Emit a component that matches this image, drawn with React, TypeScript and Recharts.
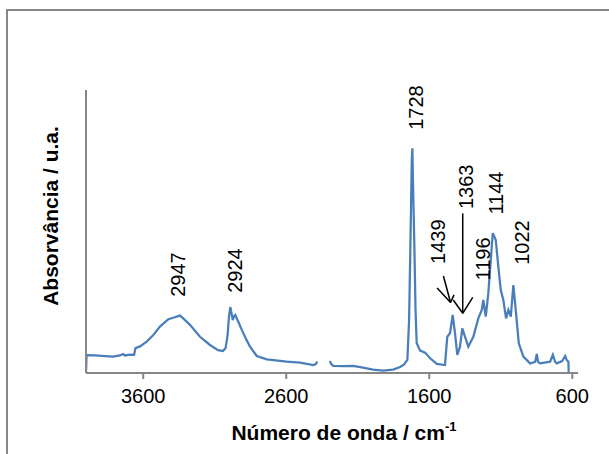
import React from "react";
import {
  LineChart,
  Line,
  XAxis,
  YAxis,
  ReferenceDot,
  ReferenceLine,
} from "recharts";

const wavenumber = [
  4000, 3996, 3937, 3867, 3811, 3762, 3741, 3727, 3692, 3664, 3654, 3622, 3576,
  3531, 3483, 3424, 3385, 3355, 3343, 3322, 3273, 3203, 3133, 3077, 3042, 3024,
  3010, 3000, 2991, 2983, 2974, 2965, 2956, 2944, 2935, 2920, 2900, 2878, 2853,
  2806, 2736, 2597, 2503, 2410, 2392, 2383, 2340, 2294, 2287, 2271, 2203, 2133,
  2063, 1993, 1921, 1853, 1804, 1776, 1753, 1741, 1732, 1722, 1718, 1714, 1704,
  1696, 1688, 1664, 1629, 1594, 1547, 1490, 1474, 1455, 1436, 1420, 1404, 1385,
  1369, 1350, 1327, 1292, 1257, 1233, 1222, 1205, 1187, 1170, 1156, 1147, 1135,
  1117, 1100, 1082, 1063, 1047, 1030, 1012, 993, 974, 942, 895, 860, 848, 839,
  825, 755, 736, 720, 708, 671, 650, 639, 627, 625, 568,
];

const absorbance = [
  0, 6.3, 6.2, 6.0, 5.8, 6.2, 6.7, 6.2, 6.5, 6.4, 8.8, 9.4, 11.1, 13.3, 16.4,
  19.0, 19.6, 20.1, 20.3, 19.4, 17.0, 12.8, 9.9, 8.1, 7.8, 8.8, 13.4, 20.1,
  23.3, 21.2, 18.7, 20.1, 20.5, 19.1, 18.1, 16.3, 14.1, 11.7, 9.3, 6.0, 4.8,
  4.0, 3.7, 2.8, 3.2, 4.1, null, 4.3, 3.2, 2.5, 2.4, 2.5, 1.9, 1.2, 0.8, 1.2,
  2.1, 3.0, 4.6, 18.7, 44.6, 75.3, 79.4, 68.2, 44.6, 22.3, 10.6, 7.9, 7.2, 5.2,
  3.2, 2.8, 12.8, 14.1, 20.5, 14.1, 6.4, 9.3, 15.8, 12.8, 9.3, 12.8, 19.3, 22.3,
  25.8, 19.9, 28.2, 39.9, 49.4, 48.4, 47.0, 37.6, 29.3, 25.8, 19.3, 22.3, 19.9,
  31.1, 21.1, 10.5, 5.8, 3.4, 3.9, 6.7, 3.9, 3.4, 4.0, 6.4, 3.9, 3.4, 4.2, 6.0,
  4.6, 4.0, 0, 0,
];

const xTicks = [3600, 2600, 1600, 600];

// rótulos das bandas: texto e posição (cm-1, u.a.)
const peakLabels = ["2947", "2924", "1728", "1439", "1363", "1196", "1144", "1022"];
const peakLabelX = [3360, 2958, 1694, 1542, 1344, 1222, 1134, 953];
const peakLabelY = [34.8, 36.2, 93.8, 46.4, 65.8, 40.3, 63.6, 46.1];

// setas: [x1, y1, x2, y2]
const arrowSegments = [
  [1501, 34.3, 1451, 24.9],
  [1545, 30.0, 1451, 24.9],
  [1427, 27.6, 1451, 24.9],
  [1366, 56.4, 1366, 21.1],
  [1432, 25.8, 1366, 21.1],
  [1296, 26.7, 1366, 21.1],
];

const data = wavenumber.map((wn, i) => ({ wn, abs: absorbance[i] }));

const FONT = '"Liberation Sans", Arial, sans-serif';
const AXIS = "#868686";

export default function App() {
  return (
    <div
      style={{
        position: "absolute",
        left: 0,
        top: 0,
        width: 609,
        height: 454,
        overflow: "hidden",
        background: "#fff",
      }}
    >
      <div
        style={{
          position: "absolute",
          left: 6,
          top: 9,
          width: 640,
          height: 480,
          border: `2px solid ${AXIS}`,
        }}
      />
      <div style={{ position: "absolute", left: 0, top: 0 }}>
        <LineChart
          width={609}
          height={454}
          data={data}
          margin={{ top: 90, right: 31, bottom: 21, left: 26 }}
        >
          <XAxis
            type="number"
            dataKey="wn"
            domain={[560, 4000]}
            reversed
            ticks={xTicks}
            allowDataOverflow
            height={60}
            stroke={AXIS}
            strokeWidth={2}
            tickSize={6}
            tickMargin={10}
            tick={{ fill: "#000", fontSize: 20, fontFamily: FONT }}
            label={{
              content: (p: any) => (
                <text
                  x={344}
                  y={p.viewBox.y + 67}
                  textAnchor="middle"
                  fontFamily={FONT}
                  fontWeight="bold"
                  fontSize={21}
                  fill="#000"
                >
                  Número de onda / cm
                  <tspan fontSize={13} dy={-9}>
                    -1
                  </tspan>
                </text>
              ),
            }}
          />
          <YAxis
            type="number"
            domain={[0, 100]}
            width={60}
            tick={false}
            tickLine={false}
            stroke={AXIS}
            strokeWidth={2}
            allowDataOverflow
            label={{
              content: () => (
                <text
                  x={58}
                  y={216}
                  transform="rotate(-90 58 216)"
                  textAnchor="middle"
                  fontFamily={FONT}
                  fontWeight="bold"
                  fontSize={21}
                  fill="#000"
                >
                  Absorvância / u.a.
                </text>
              ),
            }}
          />
          <Line
            type="linear"
            dataKey="abs"
            stroke="#4a7ebb"
            strokeWidth={2.25}
            dot={false}
            connectNulls={false}
            isAnimationActive={false}
          />
          {peakLabels.map((t, i) => (
            <ReferenceDot
              key={t}
              x={peakLabelX[i]}
              y={peakLabelY[i]}
              r={0}
              ifOverflow="visible"
              shape={(p: any) => (
                <text
                  x={p.cx}
                  y={p.cy}
                  transform={`rotate(-90 ${p.cx} ${p.cy})`}
                  textAnchor="middle"
                  dominantBaseline="central"
                  fontFamily={FONT}
                  fontSize={20}
                  fill="#000"
                >
                  {t}
                </text>
              )}
            />
          ))}
          {arrowSegments.map((s, i) => (
            <ReferenceLine
              key={i}
              segment={[
                { x: s[0], y: s[1] },
                { x: s[2], y: s[3] },
              ]}
              stroke="#000"
              strokeWidth={1.5}
              ifOverflow="visible"
            />
          ))}
        </LineChart>
      </div>
    </div>
  );
}
